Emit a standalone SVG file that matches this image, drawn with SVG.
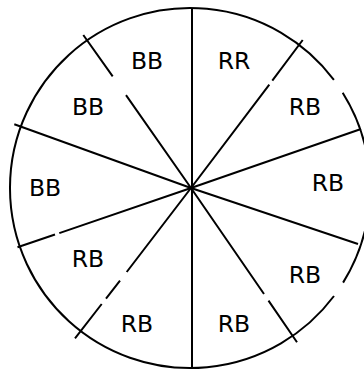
<svg xmlns="http://www.w3.org/2000/svg" width="364" height="370" viewBox="0 0 364 370">
<style>
.ln{fill:none;stroke:#000;stroke-width:2}
.lb{font-family:"DejaVu Sans",sans-serif;font-size:23.5px;fill:#000;text-anchor:middle}
</style>
<rect width="364" height="370" fill="#fff"/>
<g id="connectors">
<path id="circle" class="ln" d="M342.7,92.7 A180,180 0 0 1 343.1,282.6 M334,296 A180,180 0 1 1 333.9,79.9"/>
<path class="ln" d="M192,9 L192,367"/>
<path class="ln" d="M191,188 L269.3,84.7 M272.3,80.7 L302.7,40"/>
<path class="ln" d="M191,188 L361,129"/>
<path class="ln" d="M191,188 L358,244"/>
<path class="ln" d="M191,188 L264,294 M268.5,300.6 L297,342.3"/>
<path class="ln" d="M191,188 L126.7,272 M120,280.6 L106,298.6 M101.7,304 L75,338.3"/>
<path class="ln" d="M191,188 L59.3,233.1 M55,234.5 L17.5,247.3"/>
<path class="ln" d="M191,188 L14.3,124.3"/>
<path class="ln" d="M191,188 L126,95.1 M112.7,76.4 L83.3,35"/>
</g>
<g id="n1"><text class="lb" x="147" y="69">BB</text></g>
<g id="n2"><text class="lb" x="234" y="69">RR</text></g>
<g id="n3"><text class="lb" x="305" y="115">RB</text></g>
<g id="n4"><text class="lb" x="88" y="115">BB</text></g>
<g id="n5"><text class="lb" x="45" y="196">BB</text></g>
<g id="n6"><text class="lb" x="328" y="191">RB</text></g>
<g id="n7"><text class="lb" x="88" y="267">RB</text></g>
<g id="n8"><text class="lb" x="305" y="283">RB</text></g>
<g id="n9"><text class="lb" x="137" y="332">RB</text></g>
<g id="n10"><text class="lb" x="234" y="332">RB</text></g>
</svg>
